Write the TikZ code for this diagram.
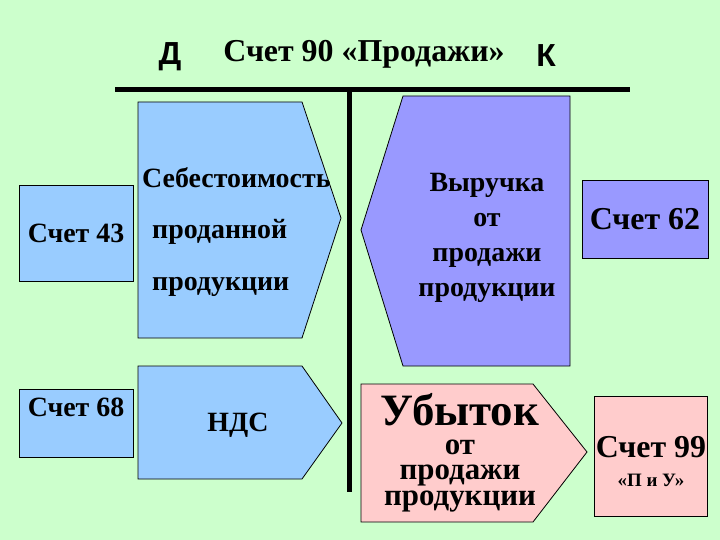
\documentclass[tikz,border=0pt]{standalone}
\usepackage{fontspec}
\setmainfont{Liberation Serif}
\newfontfamily\letterfont{Liberation Sans}
\usetikzlibrary{positioning}
\definecolor{salesgreen}{RGB}{204,255,204}
\definecolor{costblue}{RGB}{153,204,255}
\definecolor{revviolet}{RGB}{153,153,255}
\definecolor{losspink}{RGB}{255,204,204}
\tikzset{
  tline/.style={
    line width=5bp,
    draw=black
  },
  costshape/.style={
    fill=costblue,
    draw=black,
    line width=0.8bp
  },
  revshape/.style={
    fill=revviolet,
    draw=black,
    line width=0.8bp
  },
  lossshape/.style={
    fill=losspink,
    draw=black,
    line width=0.8bp
  },
  acct/.style={
    draw=black,
    line width=0.8bp,
    inner sep=0pt
  },
  sidemark/.style={
    anchor=base,
    inner sep=0pt,
    font=\letterfont\bfseries\fontsize{32}{32}\selectfont
  },
  txt/.style={
    inner sep=0pt,
    font=\bfseries\fontsize{#1}{#1}\selectfont
  }
}

\begin{document}
\begin{tikzpicture}[x=1bp, y=-1bp]
  \fill[salesgreen] (0,0) rectangle (720,540);
  \useasboundingbox (0,0) rectangle (720,540);

  % heading
  \node[sidemark] (debit) at (170,65) {Д};
  \node[anchor=base, txt=32] (heading) at (364,62) {Счет 90 «Продажи»};
  \node[sidemark] (credit) at (546,67) {К};

  % T account
  \coordinate (tleft) at (115,90);
  \coordinate (tright) at (630,90);
  \coordinate (ttop) at (349,90);
  \coordinate (tbottom) at (349,492);
  \draw[tline] (tleft) -- (tright);
  \draw[tline] (ttop) -- (tbottom);

  % debit side
  \filldraw[costshape] (138,102) -- (302,102) -- (341,218) -- (302,338) -- (138,338) -- cycle;
  \node[anchor=west, align=left, txt=28, font=\bfseries\fontsize{28}{52}\selectfont] (cost) at (142,232)
    {Себестоимость\\\hspace*{10bp}проданной\\\hspace*{10bp}продукции};
  \node[acct, fill=costblue, minimum width=114bp, minimum height=96bp, txt=28] (acc43) at (76,233) {Счет 43};

  \filldraw[costshape] (138,366) -- (302,366) -- (342,423) -- (302,479) -- (138,479) -- cycle;
  \node[txt=28] (vat) at (238,425) {НДС};
  \node[acct, fill=costblue, minimum width=114bp, minimum height=68bp, anchor=north west] (acc68) at (19,389) {};
  \node[txt=28] (acc68text) at (76,407) {Счет 68};

  % credit side
  \filldraw[revshape] (403,96) -- (570,96) -- (570,366) -- (403,366) -- (361,230) -- cycle;
  \node[align=center, txt=28, font=\bfseries\fontsize{28}{35}\selectfont] (revenue) at (487,238)
    {Выручка\\от\\продажи\\продукции};
  \node[acct, fill=revviolet, minimum width=126bp, minimum height=78bp, txt=32] (acc62) at (645,219) {Счет 62};

  \filldraw[lossshape] (361,384) -- (533,384) -- (587,452) -- (533,522) -- (361,522) -- cycle;
  \node[anchor=base, txt=45] (loss) at (460,425) {Убыток};
  \node[anchor=base, align=center, txt=31, font=\bfseries\fontsize{31}{25.5}\selectfont] (losstext) at (460,505)
    {от\\продажи\\продукции};
  \node[acct, fill=losspink, minimum width=113bp, minimum height=120bp] (acc99) at (651,456) {};
  \node[txt=32] (acc99text) at (651,447) {Счет 99};
  \node[txt=19] (acc99name) at (651,480) {«П и У»};
\end{tikzpicture}
\end{document}
